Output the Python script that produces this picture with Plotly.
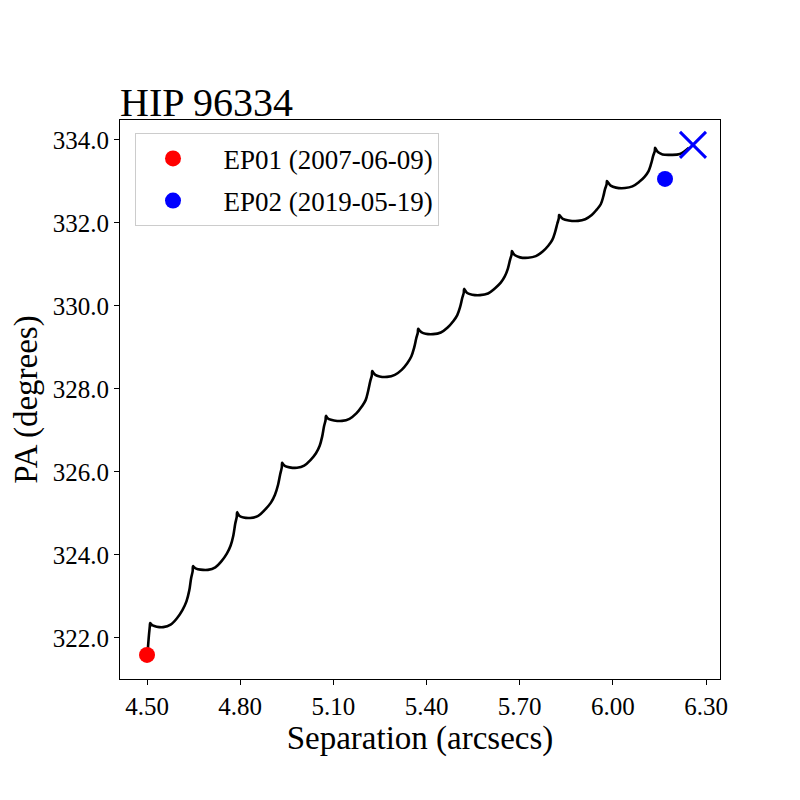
import plotly.graph_objects as go

# Background track (separation in arcsec, position angle in degrees)
track_sep = [
    4.503, 4.506, 4.509,
    4.510, 4.513, 4.518, 4.531, 4.552, 4.576, 4.597, 4.614, 4.627, 4.636, 4.642, 4.647,
    4.648, 4.652, 4.658, 4.672, 4.696, 4.720, 4.740, 4.757, 4.769, 4.778, 4.784, 4.789,
    4.790, 4.793, 4.798, 4.811, 4.832, 4.858, 4.880, 4.899, 4.912, 4.922, 4.929, 4.934,
    4.935, 4.939, 4.945, 4.959, 4.983, 5.006, 5.027, 5.044, 5.056, 5.064, 5.070, 5.075,
    5.076, 5.080, 5.086, 5.102, 5.128, 5.152, 5.174, 5.191, 5.204, 5.212, 5.219, 5.224,
    5.225, 5.229, 5.235, 5.249, 5.273, 5.298, 5.320, 5.338, 5.351, 5.360, 5.367, 5.372,
    5.373, 5.377, 5.383, 5.397, 5.421, 5.446, 5.468, 5.486, 5.499, 5.508, 5.515, 5.520,
    5.521, 5.525, 5.531, 5.547, 5.572, 5.598, 5.620, 5.639, 5.652, 5.662, 5.669, 5.674,
    5.675, 5.679, 5.685, 5.701, 5.727, 5.752, 5.774, 5.792, 5.805, 5.814, 5.821, 5.826,
    5.827, 5.832, 5.839, 5.858, 5.888, 5.911, 5.932, 5.948, 5.961, 5.969, 5.975, 5.980,
    5.981, 5.986, 5.993, 6.010, 6.039, 6.063, 6.085, 6.102, 6.115, 6.123, 6.130, 6.135,
    6.136, 6.140, 6.146, 6.160, 6.184, 6.216, 6.245,
]
track_pa = [
    321.76, 322.05, 322.28,
    322.36, 322.33, 322.30, 322.27, 322.26, 322.32, 322.48, 322.67, 322.88, 323.14, 323.44, 323.61,
    323.73, 323.70, 323.67, 323.645, 323.64, 323.70, 323.85, 324.03, 324.22, 324.47, 324.75, 324.92,
    325.03, 324.99, 324.94, 324.90, 324.89, 324.94, 325.09, 325.26, 325.45, 325.69, 325.95, 326.11,
    326.22, 326.18, 326.14, 326.11, 326.10, 326.15, 326.29, 326.45, 326.63, 326.85, 327.10, 327.25,
    327.35, 327.31, 327.27, 327.24, 327.23, 327.28, 327.41, 327.57, 327.73, 327.95, 328.19, 328.33,
    328.43, 328.39, 328.34, 328.30, 328.29, 328.34, 328.46, 328.62, 328.78, 328.99, 329.22, 329.36,
    329.45, 329.41, 329.37, 329.33, 329.32, 329.36, 329.48, 329.63, 329.78, 329.97, 330.19, 330.32,
    330.41, 330.37, 330.31, 330.27, 330.26, 330.30, 330.42, 330.56, 330.71, 330.90, 331.11, 331.24,
    331.32, 331.27, 331.22, 331.17, 331.16, 331.20, 331.31, 331.45, 331.59, 331.78, 331.98, 332.11,
    332.19, 332.15, 332.10, 332.06, 332.05, 332.09, 332.19, 332.32, 332.45, 332.63, 332.82, 332.93,
    333.01, 332.96, 332.90, 332.85, 332.84, 332.88, 332.99, 333.11, 333.25, 333.42, 333.62, 333.73,
    333.81, 333.76, 333.70, 333.65, 333.64, 333.66, 333.81,
]
assert len(track_sep) == len(track_pa)

# Observed epochs
epoch_labels = ["EP01 (2007-06-09)", "EP02 (2019-05-19)"]
epoch_sep = [4.500, 6.168]
epoch_pa = [321.59, 333.06]
epoch_colors = ["red", "blue"]

# Predicted background position at the second epoch
pred_sep = [6.258]
pred_pa = [333.88]

x_ticks = [4.50, 4.80, 5.10, 5.40, 5.70, 6.00, 6.30]
y_ticks = [322.0, 324.0, 326.0, 328.0, 330.0, 332.0, 334.0]

FONT = "Liberation Serif"

fig = go.Figure()
fig.add_trace(go.Scatter(
    x=track_sep, y=track_pa, mode="lines",
    line=dict(color="black", width=2.6, shape="spline", smoothing=1.0),
    showlegend=False, hoverinfo="skip",
))
for lab, sx, py, c in zip(epoch_labels, epoch_sep, epoch_pa, epoch_colors):
    fig.add_trace(go.Scatter(
        x=[sx], y=[py], mode="markers", name="\u00a0\u00a0" + lab, legendgroup=lab,
        marker=dict(color=c, size=16, line=dict(width=0)),
    ))
fig.add_trace(go.Scatter(
    x=pred_sep, y=pred_pa, mode="markers", showlegend=False,
    marker=dict(symbol="x-thin", size=26, line=dict(color="blue", width=3)),
))

axis_common = dict(
    showgrid=False, zeroline=False, showline=True, linecolor="black", linewidth=1,
    mirror=True, ticks="outside", ticklen=5, tickwidth=1, tickcolor="black",
    tickfont=dict(family=FONT, size=25, color="black"),
)
fig.update_xaxes(
    range=[4.413, 6.345], tickvals=x_ticks, tickformat=".2f",
    title=dict(text="Separation (arcsecs)", font=dict(family=FONT, size=33, color="black"), standoff=6),
    **axis_common,
)
fig.update_yaxes(
    range=[321.01, 334.48], tickvals=y_ticks, tickformat=".1f",
    title=dict(text="PA (degrees)", font=dict(family=FONT, size=33, color="black"), standoff=6),
    **axis_common,
)
fig.update_layout(
    width=800, height=800,
    margin=dict(l=112, r=88, t=112, b=129),
    paper_bgcolor="white", plot_bgcolor="white",
    title=dict(text="HIP 96334", x=0, xref="paper", xanchor="left",
               y=1, yref="paper", yanchor="bottom", pad=dict(b=4),
               font=dict(family=FONT, size=40, color="black")),
    legend=dict(x=0.025, y=0.976, xanchor="left", yanchor="top",
                bgcolor="rgba(255,255,255,0.8)", bordercolor="#cccccc", borderwidth=1,
                font=dict(family=FONT, size=27, color="black"),
                itemwidth=64, tracegroupgap=4),
    showlegend=True,
)
fig.write_html("out.html")
